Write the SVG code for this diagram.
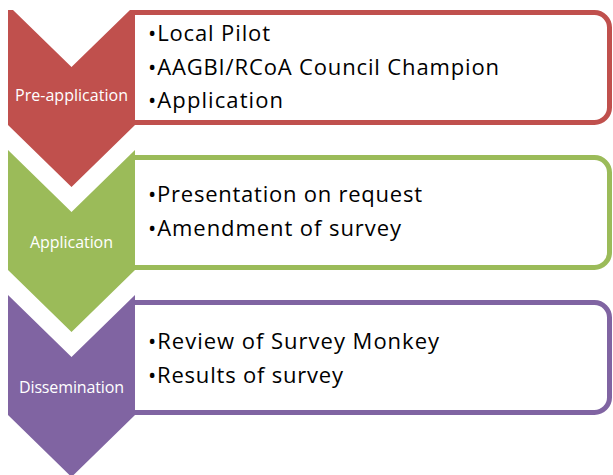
<svg xmlns="http://www.w3.org/2000/svg" width="613" height="475" viewBox="0 0 613 475">
<style>
.box{fill:#fff;stroke-width:5}
.lbl{fill:#fff;font-family:"Open Sans","Noto Sans",sans-serif;font-size:16px;text-anchor:middle}
.item{fill:#000;font-family:"Open Sans","Noto Sans",sans-serif;font-size:22px}
</style>
<rect width="613" height="475" fill="#fff"/>
<g id="pre-application">
<path class="box" stroke="#C0504D" d="M132.5,12.5 H594.5 A15,15 0 0 1 609.5,27.5 V107.5 A15,15 0 0 1 594.5,122.5 H132.5 Z"/>
<polygon fill="#C0504D" points="8,10 13,10 71.5,67 130,10 135,10 135,125 71.5,187 8,125"/>
<text class="lbl" x="71.5" y="101" textLength="113">Pre-application</text>
<text class="item" x="148" y="41" textLength="122">•Local Pilot</text>
<text class="item" x="148" y="75" textLength="351">•AAGBI/RCoA Council Champion</text>
<text class="item" x="148" y="108" textLength="135">•Application</text>
</g>
<g id="application">
<path class="box" stroke="#9BBB59" d="M132.5,157.5 H594.5 A15,15 0 0 1 609.5,172.5 V252.5 A15,15 0 0 1 594.5,267.5 H132.5 Z"/>
<polygon fill="#9BBB59" points="8,150 71.5,212 135,150 135,270 71.5,332 8,270"/>
<text class="lbl" x="71.5" y="248" textLength="83">Application</text>
<text class="item" x="148" y="202" textLength="274">•Presentation on request</text>
<text class="item" x="148" y="236" textLength="253">•Amendment of survey</text>
</g>
<g id="dissemination">
<path class="box" stroke="#8064A2" d="M132.5,302.5 H594.5 A15,15 0 0 1 609.5,317.5 V397.5 A15,15 0 0 1 594.5,412.5 H132.5 Z"/>
<polygon fill="#8064A2" points="8,295 71.5,357 135,295 135,415 71.5,477 8,415"/>
<text class="lbl" x="71.5" y="393" textLength="105">Dissemination</text>
<text class="item" x="148" y="349" textLength="291">•Review of Survey Monkey</text>
<text class="item" x="148" y="383" textLength="195">•Results of survey</text>
</g>
<g id="connectors"/>
</svg>
